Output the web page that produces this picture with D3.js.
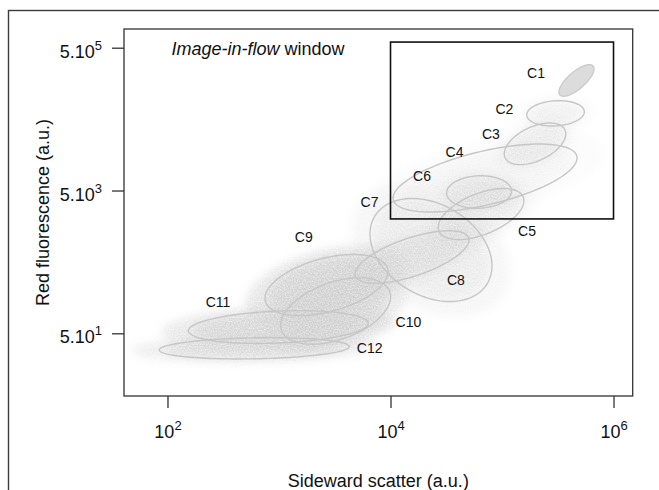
<!DOCTYPE html>
<html><head><meta charset="utf-8">
<script src="https://cdn.jsdelivr.net/npm/d3@7"></script>
<style>
body{margin:0;background:#fff;}
svg{display:block;font-family:"Liberation Sans",Arial,Helvetica,sans-serif;}
</style>
</head><body>
<svg id="chart" width="659" height="490"></svg>
<script>
// ---- data (log10 units of the axes) ----
const clusters      = ["C1","C2","C3","C4","C5","C6","C7","C8","C9","C10","C11","C12"];
const centerLogSSC  = [5.668, 5.480, 5.296, 4.848, 4.812, 4.794, 4.363, 4.193, 3.426, 3.508, 2.994, 2.778];
const centerLogFL   = [5.240, 4.780, 4.353, 3.874, 3.370, 3.678, 2.866, 2.768, 2.375, 2.011, 1.787, 1.489];
// conjugate semi-axes of each cluster ellipse, in decades
const axisA_SSC     = [0.149, 0.258, 0.268, 0.825, 0.378, 0.291, 0.547, 0.511, 0.552, 0.493, 0.807, 0.852];
const axisA_FL      = [0.202, 0.021, 0.196, 0.280, 0.238, 0.014,-0.224, 0.238, 0.186, 0.200, 0.052, 0.024];
const axisB_SSC     = [0.050, 0.000, 0.065, 0.000, 0.069, 0.000, 0.000, 0.000, 0.000, 0.000, 0.000, 0.000];
const axisB_FL      = [-0.090,0.176,-0.216, 0.385,-0.266, 0.227, 0.686, 0.280, 0.385, 0.420, 0.224, 0.147];
// relative event density of each cluster
const density       = [0.95, 0.22, 0.28, 0.15, 0.28, 0.35, 0.30, 0.40, 0.95, 0.75, 0.80, 0.65];
// label anchors (log10 units)
const labelLogSSC   = [5.305, 5.022, 4.900, 4.574, 5.224, 4.283, 3.812, 4.587, 3.222, 4.161, 2.453, 3.813];
const labelLogFL    = [5.340, 4.840, 4.490, 4.242, 3.132, 3.902, 3.534, 2.445, 3.044, 1.864, 2.144, 1.489];
// axes
const xTicks        = [1e2, 1e4, 1e6];
const xTickBase     = ["10","10","10"];
const xTickExp      = ["2","4","6"];
const yTicks        = [5e1, 5e3, 5e5];
const yTickBase     = ["5.10","5.10","5.10"];
const yTickExp      = ["1","3","5"];
const xDomainLog    = [1.61, 6.172];
const yDomainLog    = [0.821, 5.961];
// image-in-flow window
const windowSSC     = [1e4, 1e6];
const windowFL      = [2e3, 6e5];
const xTitle = "Sideward scatter (a.u.)";
const yTitle = "Red fluorescence (a.u.)";

// ---- layout ----
const svg = d3.select("#chart");
const L = 124, R = 632.7, T = 29, B = 396;
const x = d3.scaleLog().domain(xDomainLog.map(v => 10 ** v)).range([L, R]);
const y = d3.scaleLog().domain(yDomainLog.map(v => 10 ** v)).range([B, T]);

// outer frame
svg.append("rect").attr("x", 8.5).attr("y", 10.5).attr("width", 700).attr("height", 600)
  .attr("fill", "none").attr("stroke", "#3c3c3c").attr("stroke-width", 1.4);

const defs = svg.append("defs");
const f = defs.append("filter").attr("id", "cloudF")
  .attr("x", "-20%").attr("y", "-20%").attr("width", "140%").attr("height", "140%")
  .attr("color-interpolation-filters", "sRGB");
f.append("feGaussianBlur").attr("in", "SourceGraphic").attr("stdDeviation", 5).attr("result", "b");
f.append("feTurbulence").attr("type", "fractalNoise").attr("baseFrequency", 0.75).attr("numOctaves", 1)
  .attr("seed", 7).attr("result", "n");
f.append("feColorMatrix").attr("in", "n").attr("type", "matrix")
  .attr("values", "0 0 0 0 0.80  0 0 0 0 0.80  0 0 0 0 0.80  3 0 0 0 -0.9").attr("result", "g");
f.append("feComposite").attr("in", "g").attr("in2", "b").attr("operator", "in").attr("result", "gr");
const ct = f.append("feComponentTransfer").attr("in", "b").attr("result", "bs");
ct.append("feFuncA").attr("type", "linear").attr("slope", 0.75);
const m = f.append("feMerge");
m.append("feMergeNode").attr("in", "bs");
m.append("feMergeNode").attr("in", "gr");

defs.append("clipPath").attr("id", "plotClip").append("rect")
  .attr("x", L).attr("y", T).attr("width", R - L).attr("height", B - T);

const idx = d3.range(clusters.length);
function ellipsePath(i, k) {
  const pts = d3.range(0, 121).map(j => {
    const t = j / 120 * 2 * Math.PI;
    const lx = centerLogSSC[i] + k * (axisA_SSC[i] * Math.cos(t) + axisB_SSC[i] * Math.sin(t));
    const ly = centerLogFL[i] + k * (axisA_FL[i] * Math.cos(t) + axisB_FL[i] * Math.sin(t));
    return [x(10 ** lx), y(10 ** ly)];
  });
  return d3.line().curve(d3.curveLinearClosed)(pts);
}

const plot = svg.append("g").attr("clip-path", "url(#plotClip)");
// diffuse cloud of events
const cloud = plot.append("g").attr("filter", "url(#cloudF)");
cloud.append("g").selectAll("path").data(idx.filter(i => i > 0)).join("path")
  .attr("d", i => ellipsePath(i, 1.3)).attr("fill", "#dcdcdc").attr("fill-opacity", i => density[i] * 0.45);
cloud.append("g").selectAll("path").data(idx.filter(i => i > 0)).join("path")
  .attr("d", i => ellipsePath(i, 0.95)).attr("fill", "#dcdcdc").attr("fill-opacity", i => density[i] * 0.7);

// cluster ellipses
plot.append("g").selectAll("path").data(idx).join("path")
  .attr("d", i => ellipsePath(i, 1))
  .attr("fill", i => i === 0 ? "#dcdcdc" : "none")
  .attr("stroke", i => i === 0 ? "#cbcbcb" : "#c6c6c6").attr("stroke-width", 1.4);

// window
svg.append("rect")
  .attr("x", x(windowSSC[0])).attr("y", y(windowFL[1]))
  .attr("width", x(windowSSC[1]) - x(windowSSC[0])).attr("height", y(windowFL[0]) - y(windowFL[1]))
  .attr("fill", "none").attr("stroke", "#111").attr("stroke-width", 1.6);

// cluster labels
svg.append("g").selectAll("text").data(idx).join("text")
  .attr("x", i => x(10 ** labelLogSSC[i])).attr("y", i => y(10 ** labelLogFL[i]))
  .attr("dy", "0.36em").attr("text-anchor", "middle")
  .attr("font-size", 14).attr("fill", "#111").text(i => clusters[i]);

// plot box
svg.append("rect").attr("x", L).attr("y", T).attr("width", R - L).attr("height", B - T)
  .attr("fill", "none").attr("stroke", "#333").attr("stroke-width", 1.3);

// x axis
const gx = svg.append("g").attr("transform", `translate(0,${B})`)
  .call(d3.axisBottom(x).tickValues(xTicks).tickSize(12).tickFormat(() => ""));
gx.select(".domain").remove();
gx.selectAll(".tick line").attr("stroke", "#333").attr("stroke-width", 1.3);
gx.selectAll(".tick text").each(function(d, i) {
  const t = d3.select(this).attr("y", 42).attr("dy", null).attr("font-size", 18).attr("fill", "#111")
    .attr("font-family", "Liberation Sans, Arial, sans-serif").attr("text-anchor", "middle");
  t.append("tspan").text(xTickBase[i]);
  t.append("tspan").attr("font-size", 13).attr("dy", -8).text(xTickExp[i]);
});

// y axis
const gy = svg.append("g").attr("transform", `translate(${L},0)`)
  .call(d3.axisLeft(y).tickValues(yTicks).tickSize(12).tickFormat(() => ""));
gy.select(".domain").remove();
gy.selectAll(".tick line").attr("stroke", "#333").attr("stroke-width", 1.3);
gy.selectAll(".tick text").each(function(d, i) {
  const t = d3.select(this).attr("x", -22).attr("dy", 9.5).attr("font-size", 18).attr("fill", "#111")
    .attr("font-family", "Liberation Sans, Arial, sans-serif").attr("text-anchor", "end");
  t.append("tspan").text(yTickBase[i]);
  t.append("tspan").attr("font-size", 13).attr("dy", -8).text(yTickExp[i]);
});

// annotation
const ann = svg.append("text").attr("x", L + 47.5).attr("y", T + 25.5).attr("font-size", 18).attr("fill", "#111");
ann.append("tspan").attr("font-style", "italic").text("Image-in-flow");
ann.append("tspan").text(" window");

// axis titles
svg.append("text").attr("x", (L + R) / 2).attr("y", 487).attr("text-anchor", "middle")
  .attr("font-size", 18).attr("fill", "#111").text(xTitle);
svg.append("text").attr("transform", `translate(48.5,${(T + B) / 2}) rotate(-90)`).attr("text-anchor", "middle")
  .attr("font-size", 18).attr("fill", "#111").text(yTitle);
</script>
</body></html>
